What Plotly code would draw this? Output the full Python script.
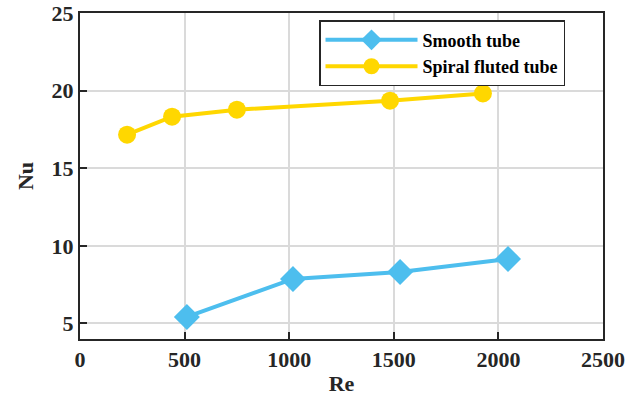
import plotly.graph_objects as go

smooth_re = [511, 1018, 1530, 2046]
smooth_nu = [5.42, 7.87, 8.32, 9.16]
spiral_re = [225, 440, 750, 1482, 1926]
spiral_nu = [17.16, 18.32, 18.77, 19.35, 19.82]

x_ticks = [0, 500, 1000, 1500, 2000, 2500]
y_ticks = [5, 10, 15, 20, 25]

font_family = "Liberation Serif"

fig = go.Figure()
fig.add_trace(go.Scatter(
    x=smooth_re, y=smooth_nu, mode="lines+markers", name="<b>Smooth tube</b>",
    line=dict(color="#4DBEEE", width=4),
    marker=dict(symbol="diamond", size=20, color="#4DBEEE")))
fig.add_trace(go.Scatter(
    x=spiral_re, y=spiral_nu, mode="lines+markers", name="<b>Spiral fluted tube</b>",
    line=dict(color="#FFD700", width=4),
    marker=dict(symbol="circle", size=18, color="#FFD700")))

axis_common = dict(
    showline=True, linecolor="#262626", linewidth=2, mirror=True,
    ticks="inside", ticklen=7, tickcolor="#262626", tickwidth=1.5,
    showgrid=True, gridcolor="#DADADA", gridwidth=1.5, zeroline=False,
    tickfont=dict(family=font_family, size=22, color="#262626"),
    automargin=False,
)

fig.update_layout(
    template="none",
    width=640, height=396,
    margin=dict(l=80, r=37, t=13, b=57),
    paper_bgcolor="white", plot_bgcolor="white",
    font=dict(family=font_family, color="#262626"),
    xaxis=dict(range=[0, 2500], tickvals=x_ticks, ticktext=[f"<b>{v}</b>" for v in x_ticks],
               title=dict(text="<b>Re</b>", font=dict(size=22), standoff=8), **axis_common),
    yaxis=dict(range=[4, 25], tickvals=y_ticks, ticktext=[f"<b>{v}</b>" for v in y_ticks],
               title=dict(text="<b>Nu</b>", font=dict(size=22), standoff=12), **axis_common),
    legend=dict(x=0.457, y=0.978, xanchor="left", yanchor="top",
                bordercolor="#262626", borderwidth=1.5, bgcolor="white",
                font=dict(family=font_family, size=18, color="black"),
                tracegroupgap=0, itemwidth=92),
    showlegend=True,
)

fig.write_html("out.html")
